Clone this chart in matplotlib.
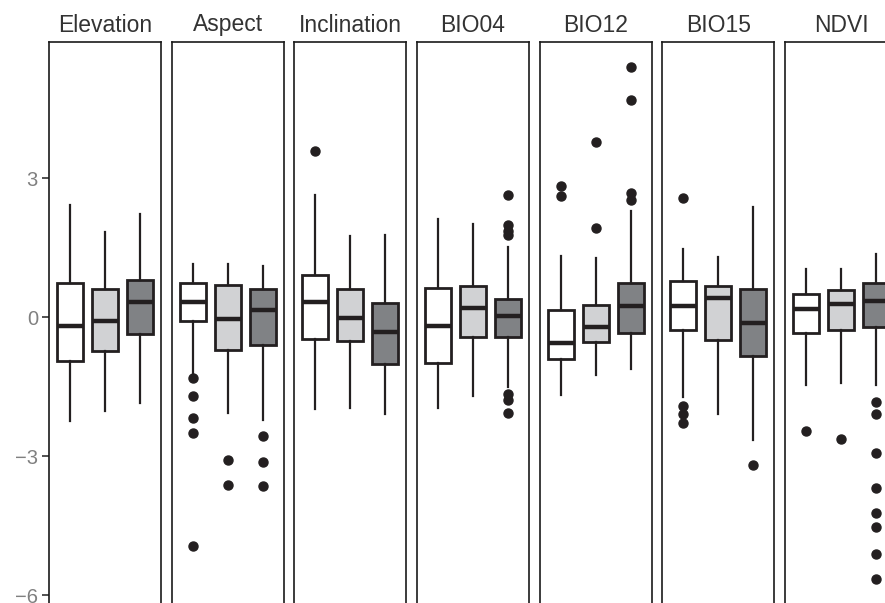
import matplotlib.pyplot as plt

plt.rcParams['font.family'] = ['Liberation Sans', 'DejaVu Sans']

variables = ['Elevation', 'Aspect', 'Inclination', 'BIO04', 'BIO12', 'BIO15', 'NDVI']

# per variable: three groups (white, light grey, dark grey)
whis_hi = [[2.42, 1.83, 2.22], [1.14, 1.14, 1.11], [2.63, 1.76, 1.78], [2.12, 2.01, 1.52],
           [1.33, 1.27, 2.29], [1.48, 1.30, 2.38], [1.05, 1.05, 1.37]]
q3 = [[0.73, 0.60, 0.80], [0.73, 0.69, 0.60], [0.92, 0.61, 0.30], [0.64, 0.68, 0.39],
      [0.16, 0.27, 0.74], [0.78, 0.68, 0.60], [0.50, 0.58, 0.74]]
medians = [[-0.19, -0.09, 0.33], [0.33, -0.04, 0.15], [0.33, -0.01, -0.31], [-0.18, 0.19, 0.03],
           [-0.56, -0.22, 0.24], [0.24, 0.42, -0.12], [0.18, 0.29, 0.35]]
q1 = [[-0.94, -0.73, -0.37], [-0.08, -0.70, -0.60], [-0.47, -0.51, -1.00], [-0.99, -0.42, -0.42],
      [-0.91, -0.53, -0.35], [-0.27, -0.49, -0.84], [-0.35, -0.28, -0.21]]
whis_lo = [[-2.24, -2.02, -1.86], [-1.25, -2.06, -2.22], [-1.98, -1.97, -2.08], [-1.95, -1.70, -1.50],
           [-1.68, -1.24, -1.11], [-1.73, -2.10, -2.64], [-1.47, -1.43, -1.47]]
outliers = [
    [[], [], []],
    [[-1.32, -1.71, -2.17, -2.50, -4.94], [-3.09, -3.63], [-2.56, -3.12, -3.65]],
    [[3.59], [], []],
    [[], [], [2.64, 1.98, 1.87, 1.77, -1.65, -1.78, -2.06]],
    [[2.83, 2.62], [3.79, 1.92], [5.41, 4.68, 2.67, 2.53]],
    [[2.58, -1.92, -2.10, -2.28], [], [-3.18]],
    [[-2.46], [-2.63], [-1.84, -2.10, -2.93, -3.68, -4.22, -4.53, -5.12, -5.64]],
]
fills = ['#FFFFFF', '#D1D2D4', '#808285']
yticks = [3, 0, -3, -6]

W, H = 885, 603
fig = plt.figure(figsize=(W / 100, H / 100), dpi=100)

edge = '#231F20'
y_top, y_bot = 5.94, -6.6
px_per_unit = 46.33
top_px = 42
bot_px = top_px + (y_top - y_bot) * px_per_unit

for i, var in enumerate(variables):
    left_px = 49 + i * 122.67
    ax = fig.add_axes([left_px / W, 1 - bot_px / H, 112 / W, (bot_px - top_px) / H])
    stats = []
    for g in range(3):
        stats.append(dict(med=medians[i][g], q1=q1[i][g], q3=q3[i][g],
                          whislo=whis_lo[i][g], whishi=whis_hi[i][g],
                          fliers=outliers[i][g]))
    bp = ax.bxp(stats, positions=[1, 2, 3], widths=0.75, patch_artist=True,
                showcaps=False,
                boxprops=dict(edgecolor=edge, linewidth=2.0),
                medianprops=dict(color=edge, linewidth=3.2, solid_capstyle='butt'),
                whiskerprops=dict(color=edge, linewidth=1.6),
                flierprops=dict(marker='o', markerfacecolor=edge, markeredgecolor=edge,
                                markersize=6.5))
    for patch, c in zip(bp['boxes'], fills):
        patch.set_facecolor(c)
    ax.set_xlim(0.4, 3.6)
    ax.set_ylim(y_bot, y_top)
    ax.set_xticks([])
    for s in ax.spines.values():
        s.set_color('#1A1A1A')
        s.set_linewidth(1.2)
    if i == 0:
        ax.set_yticks(yticks)
        ax.set_yticklabels(['3', '0', '\u22123', '\u22126'])
        ax.tick_params(axis='y', length=5, width=1.2, color='#333333',
                       labelsize=14.5, labelcolor='#808080', pad=3)
    else:
        ax.set_yticks([])
    # strip title above each panel
    fig.text((left_px + 56) / W, 1 - 31.5 / H, var, ha='center', va='baseline',
             fontsize=16.5, color='#333333')

fig.savefig('out.png', dpi=100)
